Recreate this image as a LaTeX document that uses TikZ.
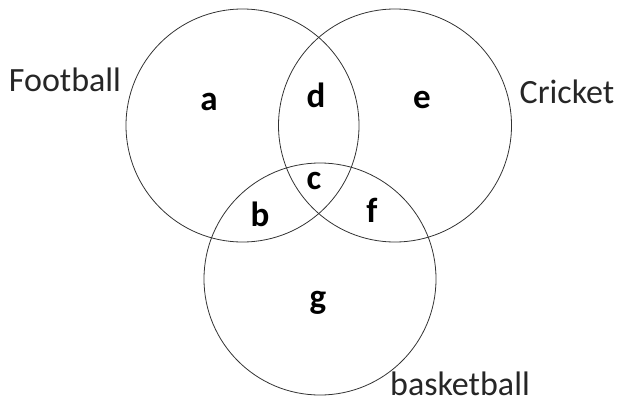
\documentclass[tikz,border=0pt]{standalone}
\usepackage{fontspec}
\setmainfont{Carlito}
\begin{document}
\begin{tikzpicture}[x=1pt,y=-1pt,
  setcircle/.style={draw=black!80, line width=0.8pt},
  setname/.style={font=\fontsize{34}{36}\selectfont, text=black!85, inner sep=0pt},
  region/.style={font=\bfseries\fontsize{35}{37}\selectfont, inner sep=0pt}]
\useasboundingbox (0,0) rectangle (617,404);
\draw[setcircle] (242.5,125.5) circle (116.5);
\draw[setcircle] (395,125.5) circle (116.5);
\draw[setcircle] (320,279) circle (116);
\node[setname] (football) at (65,80) {Football};
\node[setname] (cricket) at (567,92) {Cricket};
\node[setname] (basketball) at (460,384) {basketball};
\node[region] (a) at (209,102) {a};
\node[region] (d) at (316,95) {d};
\node[region] (e) at (422,100) {e};
\node[region] (c) at (314,181) {c};
\node[region] (b) at (260,214) {b};
\node[region] (f) at (372,210) {f};
\node[region] (g) at (318,303) {g};
\end{tikzpicture}
\end{document}
